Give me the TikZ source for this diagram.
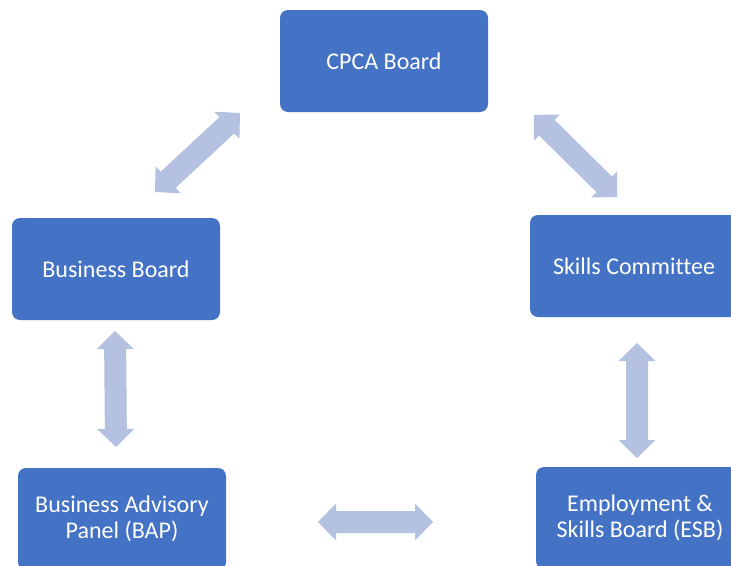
\documentclass[tikz,border=0pt]{standalone}
\usepackage{fontspec}
\setmainfont{Carlito}[Ligatures=NoCommon]
\usetikzlibrary{calc}
\definecolor{boxblue}{HTML}{4472C4}
\definecolor{arrowblue}{HTML}{B4C1E0}
\tikzset{
  board/.style={fill=boxblue, draw=none, rounded corners=8pt, minimum width=208pt, minimum height=102pt,
    text=white, align=center, font=\fontsize{24}{26}\selectfont, inner sep=0pt},
  arrowfill/.style={fill=arrowblue, draw=none}
}
\def\hl{18pt}
\def\hw{18.5pt}
\def\sw{11pt}
\newcommand{\dbarrow}[2]{%
  \fill[arrowfill] (#1) -- ($(#1)!\hl!(#2)!\hw!90:(#2)$) -- ($(#1)!\hl!(#2)!\sw!90:(#2)$)
   -- ($(#2)!\hl!(#1)!\sw!-90:(#1)$) -- ($(#2)!\hl!(#1)!\hw!-90:(#1)$) -- (#2)
   -- ($(#2)!\hl!(#1)!\hw!90:(#1)$) -- ($(#2)!\hl!(#1)!\sw!90:(#1)$)
   -- ($(#1)!\hl!(#2)!\sw!-90:(#2)$) -- ($(#1)!\hl!(#2)!\hw!-90:(#2)$) -- cycle;}
\begin{document}
\begin{tikzpicture}[x=1pt,y=-1pt]
\useasboundingbox (0,0) rectangle (731,565);
\clip (0,0) rectangle (731,565);
\fill[white] (0,0) rectangle (731,565);
\node[board] (cpca) at (384,61) {CPCA Board};
\node[board] (bb) at (116,269) {Business Board};
\node[board] (sc) at (634,266) {Skills Committee};
\node[board] (bap) at (122,519) {Business Advisory\\Panel (BAP)};
\node[board] (esb) at (640,518) {Employment \&\\Skills Board (ESB)};
\coordinate (a1s) at (155,192); \coordinate (a1e) at (240,113);
\coordinate (a2s) at (534,115); \coordinate (a2e) at (617,197);
\coordinate (a3s) at (115,331); \coordinate (a3e) at (116,447);
\coordinate (a4s) at (637,343); \coordinate (a4e) at (637,458);
\coordinate (a5s) at (318,522); \coordinate (a5e) at (433,522);
\dbarrow{a1s}{a1e}
\dbarrow{a2s}{a2e}
\dbarrow{a3s}{a3e}
\dbarrow{a4s}{a4e}
\dbarrow{a5s}{a5e}
\end{tikzpicture}
\end{document}
